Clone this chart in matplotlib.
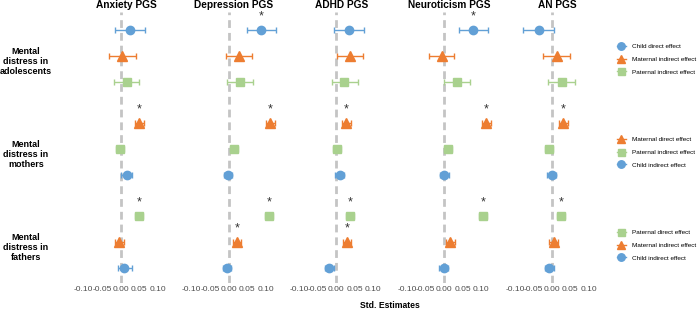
import matplotlib
matplotlib.use("Agg")
import matplotlib.pyplot as plt
import matplotlib.transforms as mtransforms
from matplotlib.lines import Line2D

plt.rcParams['font.family'] = ['Liberation Sans', 'DejaVu Sans']
plt.rcParams['axes.unicode_minus'] = False

pgs = ['Anxiety PGS', 'Depression PGS', 'ADHD PGS', 'Neuroticism PGS', 'AN PGS']

# rows, top to bottom
effects = ['Child direct effect', 'Maternal indirect effect', 'Paternal indirect effect',
           'Maternal direct effect', 'Paternal indirect effect', 'Child indirect effect',
           'Paternal direct effect', 'Maternal indirect effect', 'Child indirect effect']
row_group = [0, 0, 0, 1, 1, 1, 2, 2, 2]
row_kind = ['child', 'mother', 'father', 'mother', 'father', 'child', 'father', 'mother', 'child']
groups = ['Mental\ndistress in\nadolescents', 'Mental\ndistress in\nmothers', 'Mental\ndistress in\nfathers']

est = {
    'Anxiety PGS':     [0.025, 0.004, 0.016, 0.050, -0.002, 0.016, 0.050, -0.004, 0.010],
    'Depression PGS':  [0.088, 0.028, 0.032, 0.113, 0.014, -0.002, 0.109, 0.023, -0.004],
    'ADHD PGS':        [0.033, 0.036, 0.022, 0.027, 0.002, 0.009, 0.038, 0.029, -0.019],
    'Neuroticism PGS': [0.079, -0.006, 0.035, 0.114, 0.010, 0.001, 0.105, 0.017, -0.001],
    'AN PGS':          [-0.035, 0.013, 0.026, 0.031, -0.007, -0.001, 0.024, 0.005, -0.007],
}
lo = {
    'Anxiety PGS':     [-0.015, -0.032, -0.018, 0.038, -0.013, 0.001, 0.039, -0.016, -0.006],
    'Depression PGS':  [0.049, -0.008, -0.004, 0.101, 0.003, -0.013, 0.098, 0.011, -0.016],
    'ADHD PGS':        [-0.005, 0.002, -0.012, 0.015, -0.009, -0.003, 0.027, 0.017, -0.031],
    'Neuroticism PGS': [0.039, -0.041, 0.001, 0.102, -0.001, -0.011, 0.094, 0.005, -0.013],
    'AN PGS':          [-0.078, -0.023, -0.010, 0.019, -0.018, -0.013, 0.013, -0.007, -0.019],
}
hi = {
    'Anxiety PGS':     [0.066, 0.041, 0.050, 0.062, 0.009, 0.031, 0.061, 0.008, 0.030],
    'Depression PGS':  [0.129, 0.064, 0.067, 0.125, 0.025, 0.009, 0.120, 0.035, 0.008],
    'ADHD PGS':        [0.074, 0.072, 0.058, 0.039, 0.013, 0.021, 0.049, 0.041, -0.007],
    'Neuroticism PGS': [0.118, 0.028, 0.071, 0.126, 0.021, 0.013, 0.116, 0.029, 0.011],
    'AN PGS':          [0.005, 0.049, 0.062, 0.043, 0.004, 0.011, 0.035, 0.017, 0.005],
}
signif = {
    'Anxiety PGS':     [0, 0, 0, 1, 0, 0, 1, 0, 0],
    'Depression PGS':  [1, 0, 0, 1, 0, 0, 1, 1, 0],
    'ADHD PGS':        [0, 0, 0, 1, 0, 0, 1, 1, 0],
    'Neuroticism PGS': [1, 0, 0, 1, 0, 0, 1, 0, 0],
    'AN PGS':          [0, 0, 0, 1, 0, 0, 1, 0, 0],
}
xticks = [-0.10, -0.05, 0.00, 0.05, 0.10]

style = {
    'child':  dict(color='#62a0d6', marker='o', ms=6),
    'mother': dict(color='#ed7d31', marker='^', ms=6.8),
    'father': dict(color='#a9d18e', marker='s', ms=5.6),
}

W, H = 700, 312
fig = plt.figure(figsize=(W / 100, H / 100), dpi=100)

ypos = [i + 0.58 * g for i, g in enumerate(row_group)]
top_px, bot_px = 12, 283
xmin, xmax = -0.12, 0.15
px_per_unit = 370
zero0, step = 120.7, 107.8

axes = []
for k, name in enumerate(pgs):
    left = zero0 + step * k + xmin * px_per_unit
    width = (xmax - xmin) * px_per_unit
    ax = fig.add_axes([left / W, 1 - bot_px / H, width / W, (bot_px - top_px) / H])
    ax.axvline(0, color='#c4c4c4', lw=2, ls=(0, (2.8, 1.8)), zorder=0)
    for i, y in enumerate(ypos):
        st = style[row_kind[i]]
        e = est[name][i]
        ax.errorbar(e, y, xerr=[[e - lo[name][i]], [hi[name][i] - e]],
                    fmt=st['marker'], color=st['color'], ms=st['ms'], mec=st['color'],
                    elinewidth=1, capsize=2, capthick=1, zorder=3)
        if signif[name][i]:
            ax.annotate('*', (e, y), xytext=(0, 9.5), textcoords='offset points',
                        ha='center', va='center', fontsize=9, color='#333333')
    ax.set_xlim(xmin, xmax)
    ax.set_ylim(ypos[-1] + 0.58, ypos[0] - 0.69)
    ax.set_xticks(xticks)
    ax.set_xticklabels([f'{t:.2f}' for t in xticks], fontsize=6, color='#4d4d4d')
    ax.set_yticks([])
    ax.tick_params(axis='x', length=0, pad=2)
    for s in ax.spines.values():
        s.set_visible(False)
    ax.set_title(name, fontsize=7.3, fontweight='bold', pad=3)
    axes.append(ax)

ax0 = axes[0]
trans = mtransforms.blended_transform_factory(fig.transFigure, ax0.transData)
for g, label in enumerate(groups):
    ymid = ypos[3 * g + 1]
    ax0.annotate(label, xy=(26 / W, ymid), xycoords=trans, xytext=(0, -4),
                 textcoords='offset points', ha='center', va='center',
                 fontsize=6.5, fontweight='bold', multialignment='center',
                 annotation_clip=False)

fig.text(390 / W, 1 - 306 / H, 'Std. Estimates', ha='center', va='center',
         fontsize=6.2, fontweight='bold')

# three legends, one per outcome block
for g in range(3):
    handles = []
    for i in range(3 * g, 3 * g + 3):
        st = style[row_kind[i]]
        handles.append(Line2D([], [], color=st['color'], marker=st['marker'],
                              ms=st['ms'] * 0.9, lw=1))
    labels = effects[3 * g:3 * g + 3]
    ymid = ypos[3 * g + 1]
    yfig = 1 - (top_px + (ymid - (ypos[0] - 0.69)) /
                ((ypos[-1] + 0.58) - (ypos[0] - 0.69)) * (bot_px - top_px)) / H
    fig.legend(handles, labels, loc='center left', bbox_to_anchor=(617 / W, yfig - 0.01),
               frameon=False, fontsize=4.6, handlelength=1.4, handletextpad=0.9,
               labelspacing=1.15, borderpad=0, borderaxespad=0)

fig.savefig('out.png', dpi=100, facecolor='white')
